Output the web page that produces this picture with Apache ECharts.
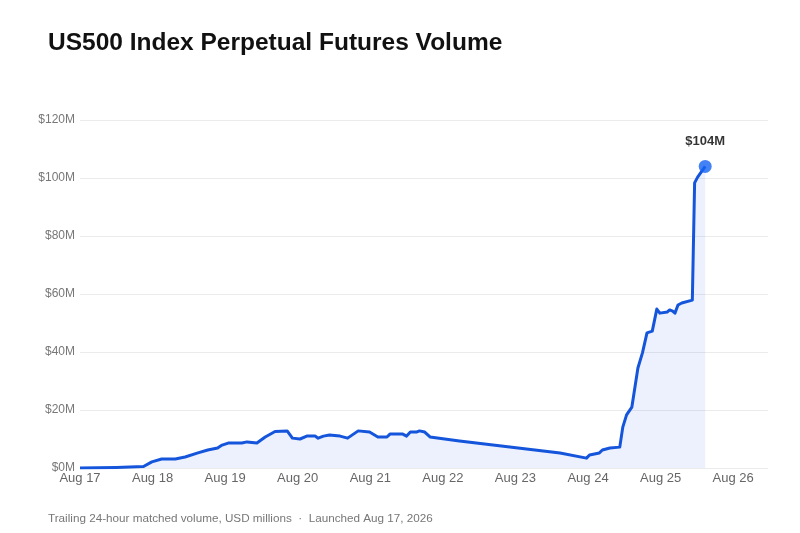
<!DOCTYPE html>
<html>
<head>
    <meta charset="utf-8">
    <title>US500 Index Perpetual Futures Volume</title>
    <script src="https://cdn.jsdelivr.net/npm/echarts@6/dist/echarts.min.js"></script>
    <style>
        html, body { margin: 0; padding: 0; background: #fff; }
        #main { width: 800px; height: 533px; }
    </style>
</head>
<body>
<div id="main"></div>
<script type="text/javascript">
    // data (UTC, USD millions)
    var times = [
        '2026-08-17 00:00', '2026-08-17 12:00', '2026-08-17 21:00', '2026-08-17 23:45',
        '2026-08-18 03:00', '2026-08-18 07:30', '2026-08-18 10:45', '2026-08-18 15:00',
        '2026-08-18 18:15', '2026-08-18 21:30', '2026-08-18 23:00', '2026-08-19 01:00',
        '2026-08-19 05:30', '2026-08-19 07:15', '2026-08-19 10:30', '2026-08-19 13:15',
        '2026-08-19 16:30', '2026-08-19 20:30', '2026-08-19 22:15', '2026-08-20 00:45',
        '2026-08-20 03:00', '2026-08-20 05:45', '2026-08-20 06:45', '2026-08-20 08:30',
        '2026-08-20 10:30', '2026-08-20 14:00', '2026-08-20 16:30', '2026-08-20 20:00',
        '2026-08-20 23:45', '2026-08-21 02:30', '2026-08-21 05:30', '2026-08-21 06:30',
        '2026-08-21 10:45', '2026-08-21 12:00', '2026-08-21 13:15', '2026-08-21 15:15',
        '2026-08-21 16:15', '2026-08-21 18:00', '2026-08-21 19:45', '2026-08-22 05:30',
        '2026-08-23 14:45', '2026-08-23 23:30', '2026-08-24 00:30', '2026-08-24 03:45',
        '2026-08-24 04:45', '2026-08-24 07:15', '2026-08-24 10:30', '2026-08-24 11:30',
        '2026-08-24 12:45', '2026-08-24 14:30', '2026-08-24 16:30', '2026-08-24 18:00',
        '2026-08-24 19:30', '2026-08-24 21:15', '2026-08-24 22:45', '2026-08-24 23:45',
        '2026-08-25 02:15', '2026-08-25 03:00', '2026-08-25 04:00', '2026-08-25 04:45',
        '2026-08-25 05:45', '2026-08-25 07:00', '2026-08-25 10:30', '2026-08-25 11:15',
        '2026-08-25 12:15', '2026-08-25 14:45'
    ];
    var volume = [
        0, 0.2, 0.5, 2.1,
        3.1, 3.1, 3.8, 5.2,
        6.2, 6.9, 7.9, 8.6,
        8.6, 9.0, 8.6, 10.7,
        12.6, 12.8, 10.3, 10.0,
        11.0, 11.0, 10.3, 11.0,
        11.4, 11.0, 10.3, 12.8,
        12.4, 10.7, 10.7, 11.7,
        11.7, 11.0, 12.4, 12.4,
        12.8, 12.4, 10.7, 9.3,
        5.2, 3.4, 4.5, 5.2,
        6.2, 6.9, 7.2, 14.1,
        18.3, 21.0, 34.5, 39.7,
        46.6, 47.2, 54.8, 53.4,
        53.8, 54.5, 54.1, 53.4,
        56.2, 56.9, 57.9, 98.3,
        100.3, 104
    ];
    var yTicks = [0, 20, 40, 60, 80, 100, 120];

    var DAY = 86400000;
    function ts(s) {
        return Date.parse(s.replace(' ', 'T') + ':00Z');
    }
    var start = ts('2026-08-17 00:00');
    var points = times.map(function (t, i) { return [ts(t), volume[i]]; });
    var last = points[points.length - 1];

    var myChart = echarts.init(document.getElementById('main'));
    var option = {
        backgroundColor: '#fff',
        animation: false,
        title: [{
            text: 'US500 Index Perpetual Futures Volume',
            left: 48,
            top: 31,
            padding: 0,
            textStyle: { fontFamily: 'Liberation Sans', fontSize: 24.5, fontWeight: 'bold', color: '#111' }
        }, {
            text: 'Trailing 24-hour matched volume, USD millions  \u00b7  Launched Aug 17, 2026',
            left: 48,
            top: 513,
            padding: 0,
            textStyle: { fontFamily: 'Liberation Sans', fontSize: 11.7, fontWeight: 'normal', color: '#777' }
        }],
        grid: { left: 80, right: 32, top: 120, bottom: 65 },
        xAxis: {
            type: 'value',
            min: start,
            max: start + 9.48 * DAY,
            interval: DAY,
            axisLine: { show: false },
            axisTick: { show: false },
            splitLine: { show: false },
            axisLabel: {
                showMaxLabel: false,
                margin: 4,
                color: '#666',
                fontFamily: 'Liberation Sans',
                fontSize: 13,
                formatter: function (v) {
                    var d = new Date(v);
                    return 'Aug ' + d.getUTCDate();
                }
            }
        },
        yAxis: {
            type: 'value',
            min: yTicks[0],
            max: yTicks[yTicks.length - 1],
            interval: 20,
            axisLine: { show: false },
            axisTick: { show: false },
            splitLine: { lineStyle: { color: '#ebebeb', width: 1 } },
            axisLabel: {
                margin: 5,
                color: '#777',
                fontFamily: 'Liberation Sans',
                fontSize: 12,
                formatter: function (v) { return '$' + v + 'M'; }
            }
        },
        series: [{
            name: 'Volume',
            type: 'line',
            data: points,
            showSymbol: false,
            lineStyle: { color: '#1455dc', width: 3, join: 'round' },
            areaStyle: { color: 'rgba(40, 100, 235, 0.13)' },
            z: 3
        }, {
            name: 'Latest',
            type: 'scatter',
            data: [last],
            symbolSize: 13,
            itemStyle: { color: '#1463f2' },
            label: {
                show: true,
                position: 'top',
                distance: 12,
                formatter: function (p) { return '$' + Math.round(p.value[1]) + 'M'; },
                color: '#000',
                fontFamily: 'Liberation Sans',
                fontSize: 13,
                fontWeight: 'bold'
            },
            z: 5
        }]
    };
    myChart.setOption(option);
</script>
</body>
</html>
